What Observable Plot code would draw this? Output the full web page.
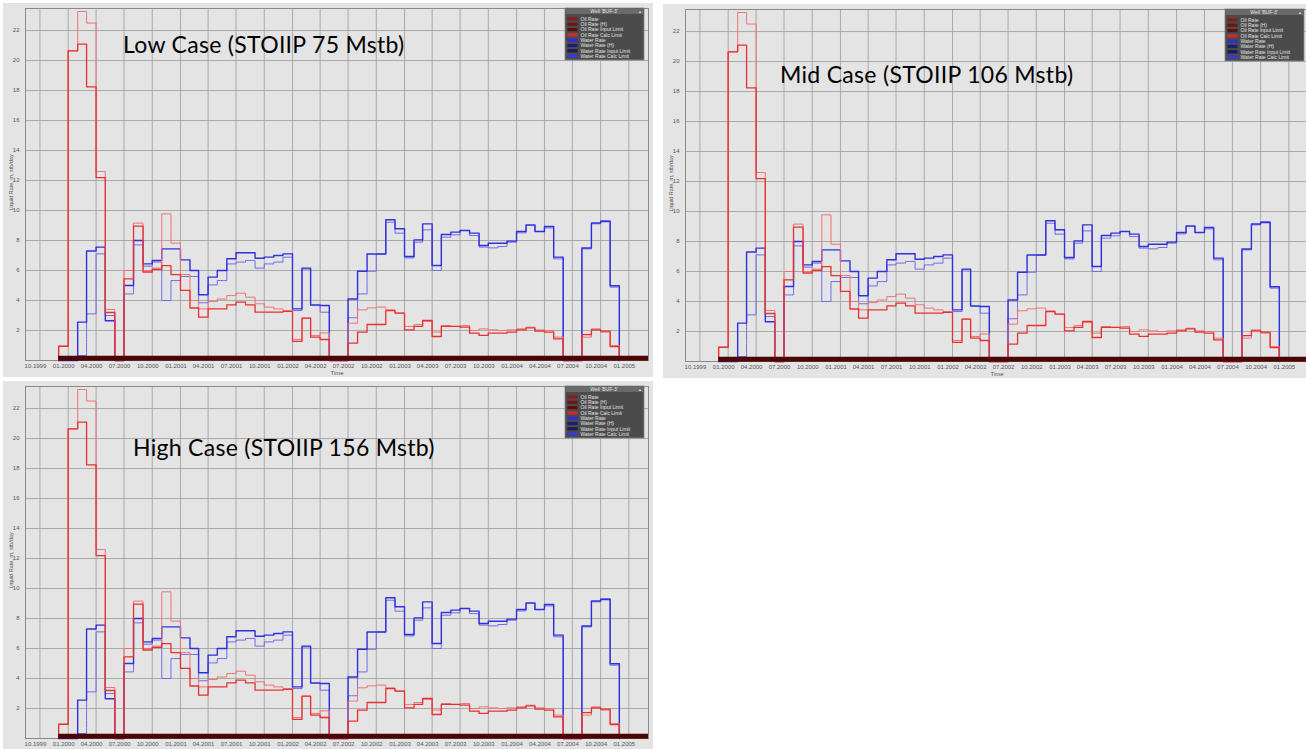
<!DOCTYPE html>
<html><head><meta charset="utf-8">
<script src="https://cdn.jsdelivr.net/npm/d3@7"></script>
<script src="https://cdn.jsdelivr.net/npm/@observablehq/plot@0.6"></script>
<style>
html,body{margin:0;padding:0;background:#fff;}
body{width:1306px;height:749px;overflow:hidden;position:relative;font-family:"Liberation Sans",Arial,sans-serif;}
.panel{position:absolute;background:#e4e4e4;overflow:hidden;}
.panel svg{display:block;}
.title{position:absolute;font-family:Lato,"Open Sans",sans-serif;font-weight:400;font-size:23px;line-height:23px;letter-spacing:0.3px;color:#000;white-space:nowrap;}
</style></head><body>
<script>
// ---- data (monthly step values, Dec 1999 .. Dec 2004) ----
const months = ["1999-12","2000-01","2000-02","2000-03","2000-04","2000-05","2000-06","2000-07","2000-08","2000-09","2000-10","2000-11","2000-12",
"2001-01","2001-02","2001-03","2001-04","2001-05","2001-06","2001-07","2001-08","2001-09","2001-10","2001-11","2001-12",
"2002-01","2002-02","2002-03","2002-04","2002-05","2002-06","2002-07","2002-08","2002-09","2002-10","2002-11","2002-12",
"2003-01","2003-02","2003-03","2003-04","2003-05","2003-06","2003-07","2003-08","2003-09","2003-10","2003-11","2003-12",
"2004-01","2004-02","2004-03","2004-04","2004-05","2004-06","2004-07","2004-08","2004-09","2004-10","2004-11","2004-12"];

const oilRate = [0.95,20.65,21.1,18.25,12.2,3.2,0,5.44,8.96,5.9,6.07,6.33,5.73,
4.67,3.5,2.89,3.44,3.44,3.71,3.89,3.71,3.22,3.22,3.22,3.27,
1.27,2.82,1.56,1.4,0,0,1.16,1.89,2.4,2.4,3.33,3.16,
2.04,2.27,2.67,1.6,2.27,2.27,2.22,1.82,1.67,1.82,1.82,1.89,
2.04,2.18,1.96,1.89,1.44,0,0,1.73,2.04,1.96,0.93,0];

const oilRateH = [0.95,20.65,23.27,22.5,12.6,3.4,0,6.0,9.16,6.0,6.16,9.78,7.82,
5.73,4.0,3.44,3.93,4.1,4.33,4.49,4.22,3.78,3.56,3.44,3.33,
1.4,2.82,1.67,1.84,0,0,2.49,3.38,3.51,3.56,3.38,3.16,
2.27,2.4,2.6,1.89,2.33,2.27,2.33,2.0,2.11,2.04,2.0,2.04,
2.11,2.22,2.04,2.0,1.56,0,0,1.56,2.11,1.89,1.0,0];

const waterRate = [0,0,2.56,7.3,7.56,2.65,0,5.0,8.0,6.44,6.67,7.44,7.44,
6.71,6.0,4.38,5.56,6.0,6.78,7.18,7.18,6.82,6.89,7.0,7.11,
3.44,6.16,3.71,3.67,0,0,4.1,5.95,7.1,7.1,9.38,8.78,
6.93,8.04,9.11,6.33,8.4,8.56,8.67,8.49,7.67,7.82,7.82,7.96,
8.6,9.04,8.6,8.93,6.89,0,0,7.5,9.17,9.27,4.98,0];

const waterRateH = [0,0,0.33,3.11,7.11,3.0,0,4.44,7.71,6.29,6.56,4.0,5.33,
5.6,5.6,3.85,5.04,5.33,6.44,6.56,6.67,6.16,6.44,6.56,6.89,
3.33,6.1,3.67,3.22,0,0,2.85,4.44,5.95,7.1,9.22,8.49,
6.84,7.89,8.71,6.0,8.22,8.38,8.67,8.33,7.56,7.51,7.6,7.89,
8.51,9.0,8.6,8.84,6.78,0,0,7.44,9.11,9.33,4.89,0];

// oil rate input limit (drawn as the thick bar at zero)
const limitStart = ["1999-12-01"];
const limitEnd = ["2005-03-06"];
const limitValue = [0];

const xTickDates = ["1999-10-01","2000-01-01","2000-04-01","2000-07-01","2000-10-01","2001-01-01","2001-04-01","2001-07-01","2001-10-01",
"2002-01-01","2002-04-01","2002-07-01","2002-10-01","2003-01-01","2003-04-01","2003-07-01","2003-10-01","2004-01-01","2004-04-01",
"2004-07-01","2004-10-01","2005-01-01"];
const yTickValues = [2,4,6,8,10,12,14,16,18,20,22];
const xDomainDates = ["1999-08-15","2005-03-06"];
const yDomainValues = [0, 23.47];

const legendTitle = "Well 'BUF-3'";
const legendLabels = ["Oil Rate","Oil Rate (H)","Oil Rate Input Limit","Oil Rate Calc Limit","Water Rate","Water Rate (H)","Water Rate Input Limit","Water Rate Calc Limit"];
const legendColors = ["#8a1c1c","#6e1515","#5a1010","#d02a2a","#2f2fd0","#1e1e70","#1a1a5c","#3a3ad8"];

const titles = ["Low Case (STOIIP 75 Mstb)","Mid Case (STOIIP 106 Mstb)","High Case (STOIIP 156 Mstb)"];

// ---- build ----
const parse = d3.utcParse("%Y-%m");
const parseD = d3.utcParse("%Y-%m-%d");
function series(vals) {
  const pts = [{date: parse(months[0]), v: 0}];
  vals.forEach((v, i) => pts.push({date: parse(months[i]), v}));
  return pts;
}
const oilH = series(oilRateH), oil = series(oilRate), watH = series(waterRateH), wat = series(waterRate);
const limits = limitStart.map((s, i) => ({x1: parseD(s), x2: parseD(limitEnd[i]), y: limitValue[i]}));
const xTicks = xTickDates.map(parseD);
const fmt = d3.utcFormat("%m.%Y");

const W = 650, H = 374;

function makePanel(left, top, title, tLeft, tTop, showTime) {
  const div = document.createElement("div");
  div.className = "panel";
  Object.assign(div.style, {left: left + "px", top: top + "px", width: W + "px", height: H + "px"});
  const marks = [
      Plot.gridX(xTicks, {stroke: "#a3a3a3", strokeOpacity: 1, strokeWidth: 0.9}),
      Plot.gridY(yTickValues, {stroke: "#a3a3a3", strokeOpacity: 1, strokeWidth: 0.9}),
      Plot.frame({stroke: "#8a8a8a", strokeWidth: 1}),
      Plot.line(watH, {x: "date", y: "v", curve: "step-after", stroke: "#6b6be8", strokeWidth: 1, strokeDasharray: "2.5,0.8"}),
      Plot.line(wat, {x: "date", y: "v", curve: "step-after", stroke: "#3030dc", strokeWidth: 1.4}),
      Plot.line(oilH, {x: "date", y: "v", curve: "step-after", stroke: "#f07070", strokeWidth: 1, strokeDasharray: "2.5,0.8"}),
      Plot.line(oil, {x: "date", y: "v", curve: "step-after", stroke: "#e83030", strokeWidth: 1.3}),
      Plot.ruleY(limits, {x1: "x1", x2: "x2", y: "y", stroke: "#4a0505", strokeWidth: 5, dy: -2.3}),
      Plot.axisX(xTicks, {tickSize: 0, tickPadding: 3, tickFormat: fmt, fontSize: 6, dx: -4.5, fill: "#555", label: null}),
      Plot.axisY(yTickValues, {tickSize: 0, tickPadding: 6, fontSize: 6, fill: "#555", label: null}),
      Plot.text(["Liquid Rate, m, stb/day"], {frameAnchor: "left", rotate: -90, dx: -14, dy: 26, fontSize: 5.5, fill: "#555"})
  ];
  if (showTime) marks.push(Plot.text(["Time"], {frameAnchor: "bottom", lineAnchor: "middle", dy: 13, fontSize: 6, fill: "#555"}));
  const chart = Plot.plot({
    width: W, height: H,
    marginLeft: 22, marginRight: 5, marginTop: 5, marginBottom: 17,
    style: {background: "transparent", fontFamily: "Liberation Sans, Arial, sans-serif", fontSize: "6px", color: "#555"},
    x: {type: "utc", domain: xDomainDates.map(parseD)},
    y: {domain: yDomainValues},
    marks
  });
  // legend box
  const svg = d3.select(chart);
  const g = svg.append("g").attr("transform", `translate(${W - 88},5)`).attr("text-anchor", "start")
    .attr("font-family", "Liberation Sans, Arial, sans-serif");
  g.append("rect").attr("width", 79).attr("height", 52).attr("fill", "#4b4b4b").attr("stroke", "#888").attr("stroke-width", 0.8);
  g.append("rect").attr("x", 0.5).attr("y", 0.5).attr("width", 78).attr("height", 5.5).attr("fill", "#6a6a6a");
  g.append("text").attr("x", 39).attr("y", 4.6).attr("text-anchor", "middle").attr("font-size", 5).attr("fill", "#e6e6e6").text(legendTitle);
  g.append("text").attr("x", 75).attr("y", 4.6).attr("text-anchor", "middle").attr("font-size", 4).attr("fill", "#ddd").text("\u25b2");
  legendLabels.forEach((lab, i) => {
    const y = 11 + i * 5.3;
    g.append("rect").attr("x", 2.5).attr("y", y - 1.6).attr("width", 10).attr("height", 3.2).attr("fill", legendColors[i]);
    g.append("text").attr("x", 15.5).attr("y", y + 1.7).attr("text-anchor", "start").attr("font-size", 5).attr("fill", "#e4e4e4").text(lab);
  });
  div.appendChild(chart);
  document.body.appendChild(div);
  const t = document.createElement("div");
  t.className = "title";
  t.style.left = tLeft + "px";
  t.style.top = tTop + "px";
  t.textContent = title;
  document.body.appendChild(t);
}

makePanel(3, 3, titles[0], 123, 33, true);
makePanel(663, 4, titles[1], 780, 63, true);
makePanel(3, 381, titles[2], 133, 436, false);
</script>
</body></html>
